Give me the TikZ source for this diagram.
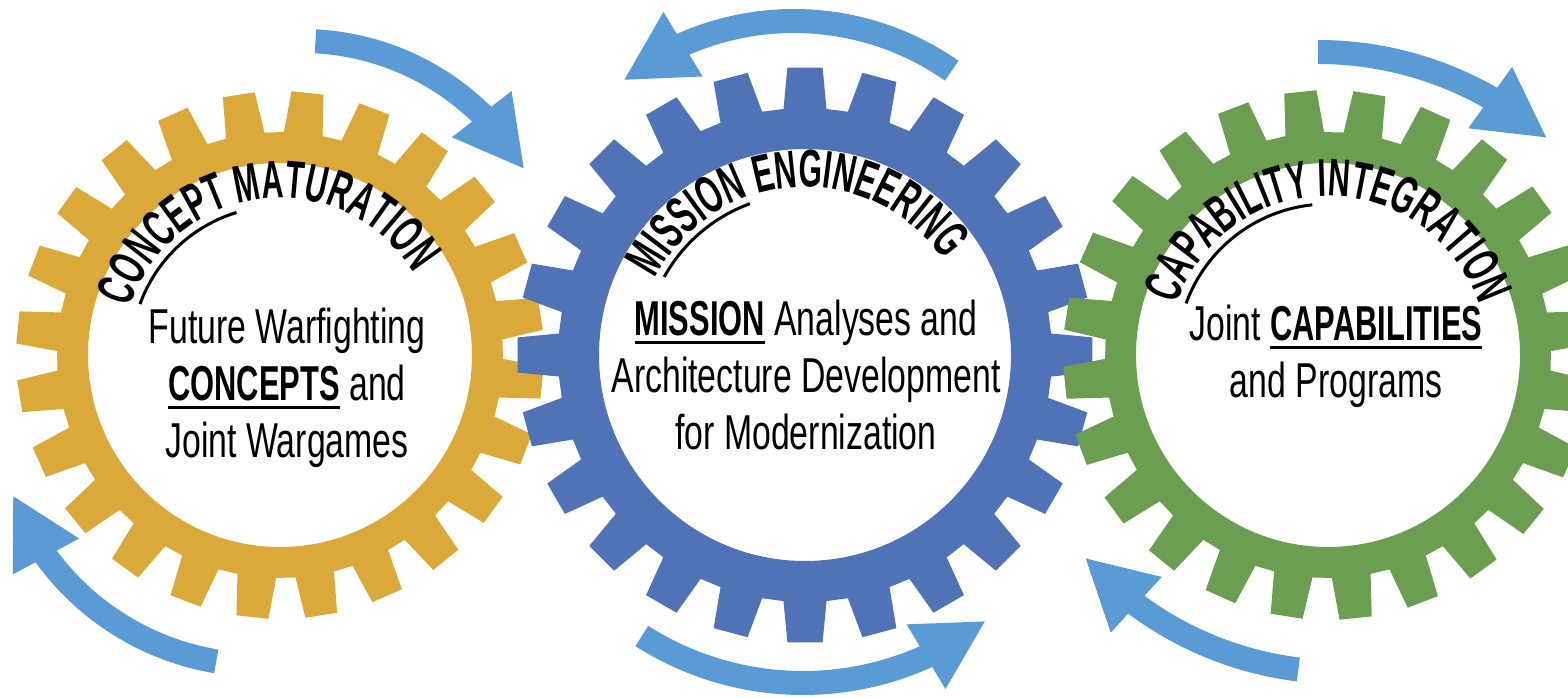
\documentclass[tikz,border=0pt]{standalone}
\usepackage{fontspec}
\usetikzlibrary{arrows.meta,bending,decorations.text}

\newfontfamily\bodyfont[FakeStretch=0.69]{Liberation Sans}
\newfontfamily\headfont[FakeStretch=0.63]{Liberation Sans}
\newfontfamily\arcfont[FakeStretch=0.57]{Liberation Sans}
\newcommand\titlefont{\arcfont\bfseries\fontsize{53pt}{53pt}\selectfont}
\newsavebox\wordbox
\newcommand\bigword[1]{\sbox\wordbox{\headfont\bfseries #1}\rlap{\rule[-8.5pt]{\wd\wordbox}{3pt}}\usebox\wordbox}

\definecolor{gearyellow}{RGB}{219,169,57}
\definecolor{gearblue}{RGB}{80,114,182}
\definecolor{geargreen}{RGB}{107,158,80}
\definecolor{arrowblue}{RGB}{91,155,213}

\begin{document}
\begin{tikzpicture}[x=1pt,y=1pt,
    flow/.style={draw=arrowblue, line width=24pt, -{Triangle[length=70pt,width=70pt,flex]}},
    gearlabel/.style={align=center, font=\bodyfont\fontsize{49pt}{57pt}\selectfont},
    arctitle/.style={decorate, decoration={text along path, text align=center, text={#1}}}]
  \useasboundingbox (0,0) rectangle (1568,697);
  \clip (0,0) rectangle (1568,697);
  % gears: centre x/colour/first tooth/inner/root/tip radius
  \foreach \x/\col/\off/\ri/\rr/\rt in {
    280/gearyellow/84/192/223/264,
    805/gearblue/90/206/247/288,
    1328/geargreen/81/192/223/265} {
    \fill[\col, even odd rule, shift={(\x,342)}] (\off-5:\rr)
      \foreach \k in {0,...,23} {
        -- (\off+15*\k-5:\rr) -- (\off+15*\k-3.5:\rt)
        -- (\off+15*\k+3.5:\rt) -- (\off+15*\k+5:\rr)
      } -- cycle (0,0) circle[radius=\ri];
  }
  % turning arrows: arc centre/radius/start/end angle
  \foreach \cx/\cy/\r/\a/\b in {
    302/399/257/87/30,
    260/297/265/260.5/201,
    794/401/275/55/128.4,
    803/314/300/237.5/307.6,
    1318/297/348/90/48.8,
    1340/367/342/263/221.7}
    \draw[flow] ([shift={(\a:\r)}]\cx,\cy) arc[start angle=\a, end angle=\b, radius=\r];
  % titles bent over the top of each gear
  \path[arctitle={|\titlefont|CONCEPT MATURATION}]
    ([shift={(172:157)}]280,342) arc[start angle=172, end angle=22, radius=157];
  \path[arctitle={|\titlefont|MISSION ENGINEERING}]
    ([shift={(168.7:168)}]805,342) arc[start angle=168.7, end angle=18.7, radius=168];
  \path[arctitle={|\titlefont|CAPABILITY INTEGRATION}]
    ([shift={(165:159)}]1328,342) arc[start angle=165, end angle=15, radius=159];
  % underline under the first word of each title
  \foreach \cx/\r/\a/\b in {280/149/160/107, 805/161/151/110, 1328/151/160/96}
    \draw[line width=3pt] ([shift={(\a:\r)}]\cx,342) arc[start angle=\a, end angle=\b, radius=\r];
  % text inside the gears
  \node[gearlabel] (concepttext) at (287,309) {Future Warfighting\\\bigword{CONCEPTS} and\\Joint Wargames};
  \node[gearlabel] (missiontext) at (806,322) {\bigword{MISSION} Analyses and\\Architecture Development\\for Modernization};
  \node[gearlabel] (capabilitytext) at (1336,341) {Joint \bigword{CAPABILITIES}\\and Programs};
\end{tikzpicture}
\end{document}
